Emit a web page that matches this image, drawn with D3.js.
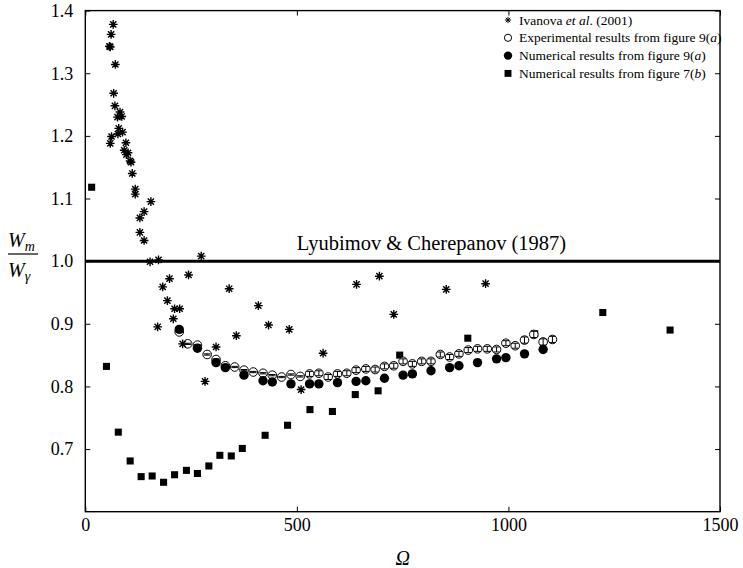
<!DOCTYPE html>
<html><head><meta charset="utf-8">
<script src="https://cdn.jsdelivr.net/npm/d3@7"></script>
<style>
body{margin:0;background:#fff}
svg{display:block}
text{font-family:"Liberation Serif","Times New Roman",serif;fill:#000}
</style>
</head><body>
<svg id="c" width="743" height="568"></svg>
<script>
// ---- data ----
const ivanovaOmega = [66,61,57,59,71,67,70,82,76,86,79,88,77,62,59,96,92,101,97,106,108,111,118,118,155,139,129,129,139,153,173,274,244,199,183,340,194,211,223,208,171,409,433,482,357,309,230,283,510,562,641,695,729,853,946];
const ivanovaRatio = [1.378,1.362,1.343,1.342,1.314,1.268,1.248,1.238,1.230,1.231,1.212,1.206,1.203,1.199,1.188,1.189,1.177,1.173,1.170,1.160,1.158,1.140,1.115,1.107,1.095,1.079,1.069,1.046,1.033,0.999,1.002,1.008,0.978,0.972,0.959,0.956,0.937,0.924,0.924,0.908,0.895,0.929,0.898,0.891,0.881,0.863,0.868,0.808,0.795,0.853,0.963,0.976,0.915,0.955,0.964];

const expOmega = [222,242,265,288,309,331,353,375,397,420,442,464,486,508,530,552,574,596,618,640,663,685,707,729,751,773,795,817,839,861,883,905,927,950,972,994,1016,1038,1060,1082,1104];
const expRatio = [0.887,0.868,0.866,0.851,0.843,0.833,0.831,0.826,0.823,0.821,0.818,0.815,0.819,0.816,0.820,0.821,0.815,0.820,0.821,0.826,0.828,0.827,0.832,0.833,0.840,0.836,0.840,0.840,0.851,0.847,0.852,0.858,0.860,0.860,0.859,0.869,0.865,0.874,0.883,0.871,0.875];
const expError = [0.001,0.001,0.001,0.001,0.001,0.001,0.001,0.001,0.001,0.001,0.001,0.001,0.001,0.001,0.004,0.004,0.004,0.004,0.004,0.004,0.004,0.004,0.004,0.004,0.004,0.004,0.004,0.004,0.004,0.004,0.004,0.004,0.004,0.004,0.004,0.004,0.004,0.005,0.005,0.005,0.005];

const num9aOmega = [222,265,309,331,375,420,442,486,530,552,596,640,663,707,751,773,817,861,883,927,972,994,1038,1082];
const num9aRatio = [0.891,0.861,0.838,0.830,0.818,0.809,0.807,0.804,0.804,0.804,0.806,0.808,0.809,0.813,0.818,0.820,0.825,0.830,0.833,0.838,0.844,0.846,0.852,0.859];

const num7bOmega = [15,50,78,106,132,158,185,211,239,265,292,318,345,371,425,478,531,584,638,692,743,904,1062,1223,1382];
const num7bRatio = [1.118,0.832,0.727,0.681,0.656,0.657,0.647,0.659,0.666,0.661,0.673,0.690,0.689,0.701,0.722,0.738,0.763,0.760,0.787,0.793,0.850,0.877,0.884,0.918,0.890];

const theoryValue = 1.0;
const theoryLabel = "Lyubimov & Cherepanov (1987)";
const xTicks = [0,500,1000,1500];
const yTicks = [0.7,0.8,0.9,1.0,1.1,1.2,1.3,1.4];
const legendItems = [
  {type:"star", parts:[["Ivanova ",""],["et al","i"],[". (2001)",""]]},
  {type:"open", parts:[["Experimental results from figure 9(",""],["a","i"],[")",""]]},
  {type:"filled", parts:[["Numerical results from figure 9(",""],["a","i"],[")",""]]},
  {type:"square", parts:[["Numerical results from figure 7(",""],["b","i"],[")",""]]}
];

// ---- chart ----
const SERIF = '"Liberation Serif","Times New Roman",serif';
const svg = d3.select("#c");
svg.append("rect").attr("width",743).attr("height",568).attr("fill","#fff");
const L=85.3, R=720, T=10.6, B=511.7;
const x = d3.scaleLinear().domain([0,1500]).range([L,R]);
const y = d3.scaleLinear().domain([0.6,1.4]).range([B,T]);

const star8 = {draw(ctx,size){const r=Math.sqrt(size)/2;for(let i=0;i<4;i++){const a=i*Math.PI/4;ctx.moveTo(r*Math.cos(a),r*Math.sin(a));ctx.lineTo(-r*Math.cos(a),-r*Math.sin(a));}}};
const starPath = d3.symbol().type(star8).size(76)();
const sqPath = d3.symbol().type(d3.symbolSquare).size(50)();

// axes
const gx = svg.append("g").attr("transform",`translate(0,${B})`)
  .call(d3.axisBottom(x).tickValues(xTicks).tickSizeInner(-5).tickSizeOuter(0).tickPadding(7).tickFormat(d3.format("d")));
const gxt = svg.append("g").attr("transform",`translate(0,${T})`)
  .call(d3.axisTop(x).tickValues(xTicks).tickSizeInner(-5).tickSizeOuter(0).tickFormat(""));
const gy = svg.append("g").attr("transform",`translate(${L},0)`)
  .call(d3.axisLeft(y).tickValues(yTicks).tickSizeInner(-5).tickSizeOuter(0).tickPadding(12).tickFormat(d3.format(".1f")));
const gyr = svg.append("g").attr("transform",`translate(${R},0)`)
  .call(d3.axisRight(y).tickValues(yTicks).tickSizeInner(-5).tickSizeOuter(0).tickFormat(""));
[gx,gxt,gy,gyr].forEach(g=>{
  g.attr("font-family",null).attr("font-size",null);
  g.select(".domain").remove();
  g.selectAll(".tick line").attr("stroke","#000").attr("stroke-width",1);
  g.selectAll("text").style("font-family",SERIF).style("font-size","18px").attr("fill","#000");
});
svg.append("rect").attr("x",L).attr("y",T).attr("width",R-L).attr("height",B-T)
  .attr("fill","none").attr("stroke","#000").attr("stroke-width",1.4);

// theory line
svg.append("line").attr("x1",x(0)).attr("x2",x(1500)).attr("y1",y(theoryValue)).attr("y2",y(theoryValue))
  .attr("stroke","#000").attr("stroke-width",3);
svg.append("text").attr("x",x(500)).attr("y",y(theoryValue)-11).style("font-size","20.5px").text(theoryLabel);

// squares
svg.append("g").selectAll("path").data(num7bOmega.map((o,i)=>[o,num7bRatio[i]])).join("path")
  .attr("d",sqPath).attr("transform",d=>`translate(${x(d[0])},${y(d[1])})`).attr("fill","#000");

// open circles with error bars
const eg = svg.append("g").selectAll("g").data(expOmega.map((o,i)=>[o,expRatio[i],expError[i]])).join("g")
  .attr("transform",d=>`translate(${x(d[0])},0)`);
eg.append("circle").attr("cy",d=>y(d[1])).attr("r",4.3).attr("fill","#fff").attr("stroke","#000").attr("stroke-width",1);
eg.append("line").attr("y1",d=>y(d[1]-d[2])).attr("y2",d=>y(d[1]+d[2])).attr("stroke","#000").attr("stroke-width",1);
eg.append("line").attr("x1",-3.3).attr("x2",3.3).attr("y1",d=>y(d[1]-d[2])).attr("y2",d=>y(d[1]-d[2])).attr("stroke","#000").attr("stroke-width",1);
eg.append("line").attr("x1",-3.3).attr("x2",3.3).attr("y1",d=>y(d[1]+d[2])).attr("y2",d=>y(d[1]+d[2])).attr("stroke","#000").attr("stroke-width",1);

// filled circles
svg.append("g").selectAll("circle").data(num9aOmega.map((o,i)=>[o,num9aRatio[i]])).join("circle")
  .attr("cx",d=>x(d[0])).attr("cy",d=>y(d[1])).attr("r",4.7).attr("fill","#000");

// stars
svg.append("g").selectAll("path").data(ivanovaOmega.map((o,i)=>[o,ivanovaRatio[i]])).join("path")
  .attr("d",starPath).attr("transform",d=>`translate(${x(d[0])},${y(d[1])})`)
  .attr("fill","none").attr("stroke","#000").attr("stroke-width",1.4);

// legend
const lg = svg.append("g").attr("transform","translate(508,20)");
legendItems.forEach((it,i)=>{
  const g = lg.append("g").attr("transform",`translate(0,${i*17.8})`);
  if(it.type==="star") g.append("path").attr("d",d3.symbol().type(star8).size(40)()).attr("fill","none").attr("stroke","#000").attr("stroke-width",1);
  if(it.type==="open") g.append("circle").attr("r",3.6).attr("fill","#fff").attr("stroke","#000");
  if(it.type==="filled") g.append("circle").attr("r",4.2).attr("fill","#000");
  if(it.type==="square") g.append("path").attr("d",d3.symbol().type(d3.symbolSquare).size(48)()).attr("fill","#000");
  const t = g.append("text").attr("x",11).attr("y",4.5).style("font-size","13.5px");
  it.parts.forEach(p=>{const s=t.append("tspan").text(p[0]); if(p[1]==="i") s.style("font-style","italic");});
});

// axis titles
svg.append("text").attr("x",x(750)).attr("y",565).attr("text-anchor","middle").style("font-size","20px").style("font-style","italic").text("Ω");
const yl = svg.append("g");
const num = yl.append("text").attr("x",8).attr("y",247).style("font-size","20px").style("font-style","italic");
num.append("tspan").text("W");
num.append("tspan").style("font-size","14px").attr("dy",4).text("m");
yl.append("line").attr("x1",8).attr("x2",38).attr("y1",254).attr("y2",254).attr("stroke","#000").attr("stroke-width",1.2);
const den = yl.append("text").attr("x",8).attr("y",277).style("font-size","20px").style("font-style","italic");
den.append("tspan").text("W");
den.append("tspan").style("font-size","14px").attr("dy",4).text("γ");
</script>
</body></html>
